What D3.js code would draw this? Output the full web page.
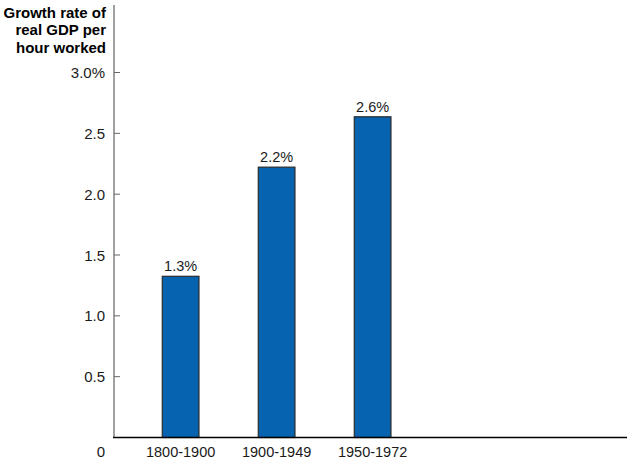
<!DOCTYPE html>
<html>
<head>
<meta charset="utf-8">
<script src="https://cdn.jsdelivr.net/npm/d3@7"></script>
<style>
  body { margin: 0; background: #fff; }
  text { font-family: "Liberation Sans", Arial, Helvetica, sans-serif; fill: #1a1a1a; }
</style>
</head>
<body>
<svg id="chart" width="629" height="462"></svg>
<script>
// data
const periods = ["1800-1900", "1900-1949", "1950-1972"];
const growth = [1.325, 2.222, 2.636];
const valueLabels = ["1.3%", "2.2%", "2.6%"];
const yTicks = [0.5, 1.0, 1.5, 2.0, 2.5, 3.0];
const yTickLabels = ["0.5", "1.0", "1.5", "2.0", "2.5", "3.0%"];
const titleLines = ["Growth rate of", "real GDP per", "hour worked"];

const svg = d3.select("#chart");

const axisX = 114, baseY = 437.5;

let y = d3.scaleLinear().domain([0, 3]).range([baseY, 72.5]);

// band scale: step 96px, bar ~37px wide
let x = d3.scaleBand()
    .domain(periods)
    .range([axisX, axisX + 96 * (3 - 0.618 + 2 * 0.503)])
    .paddingInner(0.618)
    .paddingOuter(0.503);

// y axis line (gray), runs up past the top tick
svg.append("line")
    .attr("x1", axisX).attr("x2", axisX)
    .attr("y1", 5).attr("y2", baseY)
    .attr("stroke", "#8a8a8a").attr("stroke-width", 1.6);

// ticks point inward
svg.selectAll(".ytick").data(yTicks).enter().append("line")
    .attr("class", "ytick")
    .attr("x1", axisX).attr("x2", axisX + 6)
    .attr("y1", d => y(d)).attr("y2", d => y(d))
    .attr("stroke", "#666").attr("stroke-width", 1);

svg.selectAll(".ylab").data(yTicks).enter().append("text")
    .attr("class", "ylab")
    .attr("x", 105)
    .attr("y", d => y(d) + 5.5)
    .attr("text-anchor", "end")
    .style("font-size", "15px")
    .text((d, i) => yTickLabels[i]);

// zero label sits at the category-label line
svg.append("text")
    .attr("x", 105).attr("y", baseY + 19)
    .attr("text-anchor", "end")
    .style("font-size", "15px")
    .text("0");

// title, bold, right aligned against the axis
svg.selectAll(".title").data(titleLines).enter().append("text")
    .attr("class", "title")
    .attr("x", 106)
    .attr("y", (d, i) => 17.5 + i * 17.8)
    .attr("text-anchor", "end")
    .style("font-size", "15px")
    .style("font-weight", "bold")
    .style("fill", "#000")
    .text(d => d);

// bars
svg.selectAll(".bar").data(growth).enter().append("rect")
    .attr("class", "bar")
    .attr("x", (d, i) => x(periods[i]))
    .attr("y", d => y(d))
    .attr("width", x.bandwidth())
    .attr("height", d => baseY - y(d))
    .attr("fill", "#0563b0")
    .attr("stroke", "#2b2b2b")
    .attr("stroke-width", 1.2);

svg.selectAll(".vlab").data(growth).enter().append("text")
    .attr("class", "vlab")
    .attr("x", (d, i) => x(periods[i]) + x.bandwidth() / 2)
    .attr("y", d => y(d) - 5)
    .attr("text-anchor", "middle")
    .style("font-size", "14.5px")
    .text((d, i) => valueLabels[i]);

// category labels
svg.selectAll(".xlab").data(periods).enter().append("text")
    .attr("class", "xlab")
    .attr("x", d => x(d) + x.bandwidth() / 2)
    .attr("y", baseY + 19)
    .attr("text-anchor", "middle")
    .style("font-size", "14.5px")
    .text(d => d);

// black baseline
svg.append("line")
    .attr("x1", axisX - 1).attr("x2", 627)
    .attr("y1", baseY).attr("y2", baseY)
    .attr("stroke", "#000").attr("stroke-width", 1.6);
</script>
</body>
</html>
